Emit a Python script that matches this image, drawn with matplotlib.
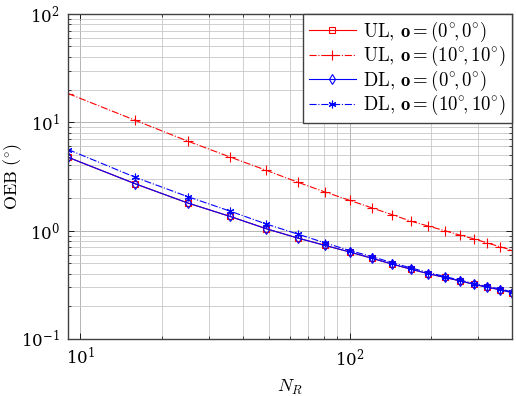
import numpy as np
import matplotlib
matplotlib.use("Agg")
import matplotlib.pyplot as plt
from matplotlib.ticker import LogLocator, NullFormatter

plt.rcParams['mathtext.fontset'] = 'cm'
plt.rcParams['font.family'] = ['DejaVu Serif']

N_R = [9, 16, 25, 36, 49, 64, 81, 100, 121, 144, 169, 196, 225, 256, 289, 324, 361, 400]
ul_00 = [4.75, 2.7, 1.8, 1.35, 1.04, 0.855, 0.73, 0.635, 0.555, 0.49, 0.44, 0.40, 0.37, 0.344, 0.32, 0.30, 0.285, 0.268]
ul_1010 = [18.4, 10.4, 6.7, 4.77, 3.6, 2.8, 2.27, 1.9, 1.62, 1.40, 1.22, 1.10, 1.0, 0.91, 0.84, 0.77, 0.71, 0.66]
dl_00 = [4.75, 2.7, 1.8, 1.35, 1.04, 0.855, 0.73, 0.635, 0.555, 0.49, 0.44, 0.40, 0.37, 0.344, 0.32, 0.30, 0.285, 0.268]
dl_1010 = [5.6, 3.1, 2.06, 1.51, 1.15, 0.93, 0.77, 0.655, 0.575, 0.505, 0.452, 0.41, 0.377, 0.35, 0.325, 0.305, 0.29, 0.272]

labels = [r'$\mathrm{UL},\,\mathbf{o}=(0^{\circ}\!,0^{\circ})$',
          r'$\mathrm{UL},\,\mathbf{o}=(10^{\circ}\!,10^{\circ})$',
          r'$\mathrm{DL},\,\mathbf{o}=(0^{\circ}\!,0^{\circ})$',
          r'$\mathrm{DL},\,\mathbf{o}=(10^{\circ}\!,10^{\circ})$']

fig = plt.figure(figsize=(5.16, 3.96), dpi=100)
ax = fig.add_axes([0.132, 0.144, 0.860, 0.821])

ax.plot(N_R, ul_00, color='red', lw=0.8, ls='-', marker='s', ms=5, mfc='none', mew=0.8, label=labels[0])
ax.plot(N_R, ul_1010, color='red', lw=0.8, ls='-.', marker='+', ms=7, mew=0.8, label=labels[1])
ax.plot(N_R, dl_00, color='blue', lw=0.8, ls='-', marker='d', ms=5.5, mfc='none', mew=0.8, label=labels[2])
ax.plot(N_R, dl_1010, color='blue', lw=0.8, ls='-.', marker=(6, 2, 0), ms=5.5, mew=0.8, label=labels[3])

ax.set_xscale('log')
ax.set_yscale('log')
ax.set_xlim(9, 400)
ax.set_ylim(0.1, 100)

ax.xaxis.set_major_locator(LogLocator(base=10, numticks=10))
ax.xaxis.set_minor_locator(LogLocator(base=10, subs=np.arange(2, 10), numticks=20))
ax.xaxis.set_minor_formatter(NullFormatter())
ax.yaxis.set_major_locator(LogLocator(base=10, numticks=10))
ax.yaxis.set_minor_locator(LogLocator(base=10, subs=np.arange(2, 10), numticks=20))
ax.yaxis.set_minor_formatter(NullFormatter())

ax.grid(True, which='major', color='#b4b4b4', lw=0.7)
ax.grid(True, which='minor', color='#c8c8c8', lw=0.6)
ax.set_axisbelow(True)

ax.tick_params(which='both', direction='in', top=True, right=True, labelsize=12)
ax.tick_params(which='major', length=4, width=0.6, pad=6)
ax.tick_params(which='minor', length=2, width=0.5)
for s in ax.spines.values():
    s.set_color('#404040')
    s.set_linewidth(1.0)

ax.set_xlabel(r'$N_R$', fontsize=13, labelpad=6)
ax.set_ylabel(r'$\mathrm{OEB}\ (^{\circ})$', fontsize=13)
ax.yaxis.set_label_coords(-0.10, 0.5)

leg = ax.legend(loc='upper right', fontsize=13.5, frameon=True, fancybox=False,
                edgecolor='#404040', framealpha=1, borderaxespad=0,
                handlelength=2.5, labelspacing=0.02, borderpad=0.3, handletextpad=0.4)
leg.get_frame().set_linewidth(1.0)

fig.savefig('out.png', dpi=100)
